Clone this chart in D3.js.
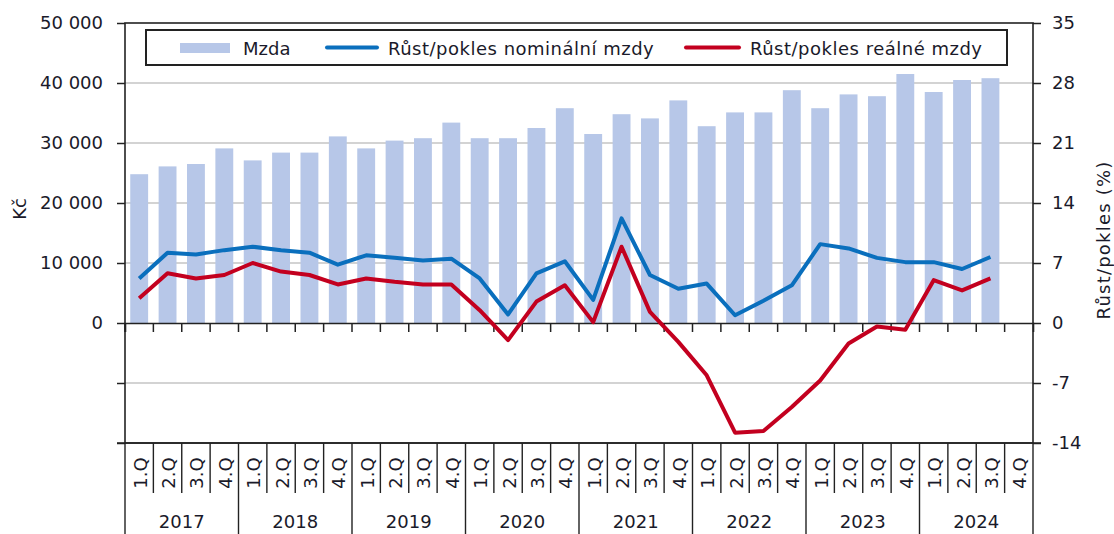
<!DOCTYPE html>
<html>
<head>
<meta charset="utf-8">
<script src="https://d3js.org/d3.v7.min.js"></script>
<style>
  body { margin: 0; background: #fff; }
  text { font-family: "DejaVu Sans", Verdana, sans-serif; fill: #1a1a2a; }
</style>
</head>
<body>
<div id="chart"></div>
<script>
// quarters 2017 Q1 .. 2024 Q4
var years = ["2017", "2018", "2019", "2020", "2021", "2022", "2023", "2024"];
var quarters = ["1.Q", "2.Q", "3.Q", "4.Q"];

// average wage, Kč (2024 Q4 not published yet)
var wages = [24800, 26100, 26500, 29100, 27100, 28400, 28400, 31100,
             29100, 30400, 30800, 33400, 30800, 30800, 32500, 35800,
             31500, 34800, 34100, 37100, 32800, 35100, 35100, 38800,
             35800, 38100, 37800, 41500, 38500, 40500, 40800];
// year-on-year change, %
var nominal = [5.2, 8.2, 8.0, 8.5, 8.9, 8.5, 8.2, 6.8,
               7.9, 7.6, 7.3, 7.5, 5.2, 1.0, 5.8, 7.2,
               2.7, 12.2, 5.6, 4.0, 4.6, 0.9, 2.6, 4.4,
               9.2, 8.7, 7.6, 7.1, 7.1, 6.3, 7.7];
var real = [2.9, 5.8, 5.2, 5.6, 7.0, 6.0, 5.6, 4.5,
            5.2, 4.8, 4.5, 4.5, 1.5, -2.0, 2.5, 4.4,
            0.1, 8.9, 1.3, -2.2, -6.1, -12.8, -12.6, -9.8,
            -6.7, -2.4, -0.4, -0.8, 5.0, 3.8, 5.2];

var leftTicks = [-20000, -10000, 0, 10000, 20000, 30000, 40000, 50000];
var rightTicks = [-14, -7, 0, 7, 14, 21, 28, 35];

var W = 1114, H = 534;
var pLeft = 125, pRight = 1033, pTop = 23, pBottom = 443;

var svg = d3.select("#chart").append("svg")
    .attr("width", W).attr("height", H);

var slots = [];
years.forEach(function (y) { quarters.forEach(function (q) { slots.push(y + "-" + q); }); });

var x = d3.scaleBand().domain(slots).range([pLeft, pRight]).paddingInner(0.37).paddingOuter(0.185);
var xo = d3.scaleBand().domain(slots).range([pLeft, pRight]);
var yL = d3.scaleLinear().domain([-20000, 50000]).range([pBottom, pTop]);
var yR = d3.scaleLinear().domain([-14, 35]).range([pBottom, pTop]);

// grid
svg.append("g").selectAll("line").data(leftTicks.filter(function (d) { return d > -20000 && d < 50000 && d !== 0; }))
  .enter().append("line")
  .attr("x1", pLeft).attr("x2", pRight)
  .attr("y1", function (d) { return yL(d); }).attr("y2", function (d) { return yL(d); })
  .attr("stroke", "#c4c4c4").attr("stroke-width", 1.5);

// bars
svg.append("g").selectAll("rect").data(wages).enter().append("rect")
  .attr("x", function (d, i) { return x(slots[i]); })
  .attr("width", x.bandwidth())
  .attr("y", function (d) { return yL(d); })
  .attr("height", function (d) { return yL(0) - yL(d); })
  .attr("fill", "#b7c7e8");

// plot border
svg.append("rect").attr("x", pLeft).attr("y", pTop)
  .attr("width", pRight - pLeft).attr("height", pBottom - pTop)
  .attr("fill", "none").attr("stroke", "#222").attr("stroke-width", 1.6);

// zero axis with ticks
var zeroAxis = d3.axisBottom(xo).tickSize(9).tickFormat("");
var gz = svg.append("g").attr("transform", "translate(0," + yL(0) + ")").call(zeroAxis);
gz.select(".domain").attr("stroke", "#222").attr("stroke-width", 1.6);
gz.selectAll(".tick").attr("transform", function (d) { return "translate(" + xo(d) + ",0)"; });
gz.selectAll(".tick line").attr("stroke", "#222").attr("stroke-width", 1.5);

// left axis
var fmt = function (d) { return d < 0 ? "" : d3.format(",")(d).replace(/,/g, " "); };
var gl = svg.append("g").attr("transform", "translate(" + pLeft + ",0)")
  .call(d3.axisLeft(yL).tickValues(leftTicks).tickSize(8).tickPadding(14).tickFormat(fmt));
gl.select(".domain").remove();
gl.selectAll(".tick line").attr("stroke", "#222").attr("stroke-width", 1.5);
gl.selectAll(".tick text").style("font-size", "18px").attr("fill", "#1a1a2a");

// right axis
var gr = svg.append("g").attr("transform", "translate(" + pRight + ",0)")
  .call(d3.axisRight(yR).tickValues(rightTicks).tickSize(8).tickPadding(11)
    .tickFormat(function (d) { return String(d); }));
gr.select(".domain").remove();
gr.selectAll(".tick line").attr("stroke", "#222").attr("stroke-width", 1.5);
gr.selectAll(".tick text").style("font-size", "18px").attr("fill", "#1a1a2a");

// lines
var line = d3.line()
  .x(function (d, i) { return x(slots[i]) + x.bandwidth() / 2; })
  .y(function (d) { return yR(d); });
svg.append("path").datum(nominal).attr("d", line)
  .attr("fill", "none").attr("stroke", "#0a6fbd").attr("stroke-width", 4).attr("stroke-linejoin", "round");
svg.append("path").datum(real).attr("d", line)
  .attr("fill", "none").attr("stroke", "#c3001f").attr("stroke-width", 4).attr("stroke-linejoin", "round");

// category axis at the bottom
var cat = svg.append("g");
cat.append("line").attr("x1", pLeft - 8).attr("x2", pRight + 8)
  .attr("y1", pBottom).attr("y2", pBottom).attr("stroke", "#222").attr("stroke-width", 1.6);
slots.forEach(function (s, i) {
  var bx = xo(s);
  var isYear = i % 4 === 0;
  cat.append("line").attr("x1", bx).attr("x2", bx)
    .attr("y1", pBottom).attr("y2", isYear ? H : 493)
    .attr("stroke", "#222").attr("stroke-width", 1.4);
  var cx = bx + xo.bandwidth() / 2;
  cat.append("text")
    .attr("transform", "translate(" + (cx + 1) + ",473) rotate(-90)")
    .attr("text-anchor", "middle").attr("dominant-baseline", "central")
    .style("font-size", "18px")
    .text(quarters[i % 4]);
});
cat.append("line").attr("x1", pRight).attr("x2", pRight)
  .attr("y1", pBottom).attr("y2", H).attr("stroke", "#222").attr("stroke-width", 1.4);
years.forEach(function (y) {
  var x0 = xo(y + "-1.Q"), x1 = xo(y + "-4.Q") + xo.bandwidth();
  cat.append("text").attr("x", (x0 + x1) / 2).attr("y", 528)
    .attr("text-anchor", "middle").style("font-size", "18px").text(y);
});

// axis titles
svg.append("text").attr("transform", "translate(19,209) rotate(-90)")
  .attr("text-anchor", "middle").attr("dominant-baseline", "central")
  .style("font-size", "18px").text("Kč");
svg.append("text").attr("transform", "translate(1103,240) rotate(-90)")
  .attr("text-anchor", "middle").attr("dominant-baseline", "central")
  .style("font-size", "18px").style("letter-spacing", "1.2px").text("Růst/pokles (%)");

// legend
var lg = svg.append("g");
lg.append("rect").attr("x", 146).attr("y", 30).attr("width", 861).attr("height", 35)
  .attr("fill", "#fff").attr("stroke", "#222").attr("stroke-width", 2);
lg.append("rect").attr("x", 180).attr("y", 43).attr("width", 50).attr("height", 10).attr("fill", "#b7c7e8");
lg.append("text").attr("x", 243).attr("y", 55).style("font-size", "18px").text("Mzda");
lg.append("line").attr("x1", 327).attr("x2", 377).attr("y1", 47.5).attr("y2", 47.5)
  .attr("stroke", "#0a6fbd").attr("stroke-width", 4).attr("stroke-linecap", "round");
lg.append("text").attr("x", 388).attr("y", 55).style("font-size", "18px").style("letter-spacing", "0.5px")
  .text("Růst/pokles nominální mzdy");
lg.append("line").attr("x1", 686).attr("x2", 739).attr("y1", 47.5).attr("y2", 47.5)
  .attr("stroke", "#c3001f").attr("stroke-width", 4).attr("stroke-linecap", "round");
lg.append("text").attr("x", 750).attr("y", 55).style("font-size", "18px").style("letter-spacing", "0.5px")
  .text("Růst/pokles reálné mzdy");
</script>
</body>
</html>
